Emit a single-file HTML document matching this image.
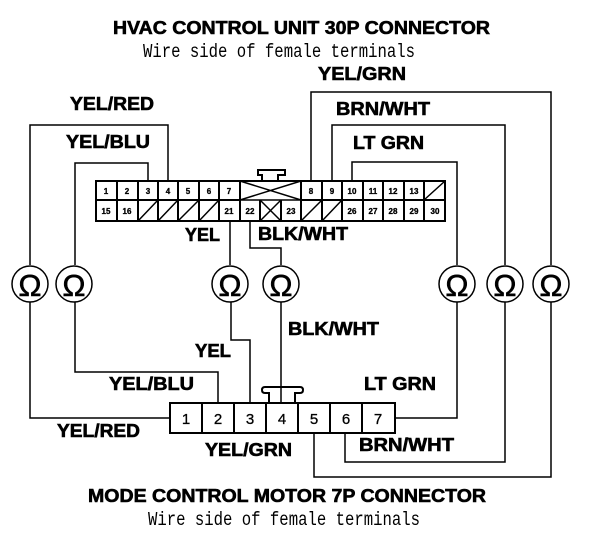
<!DOCTYPE html>
<html><head><meta charset="utf-8"><style>
html,body{margin:0;padding:0;background:#fff}
svg{display:block}
.l{font:bold 18px "Liberation Sans",sans-serif;fill:#000;stroke:#000;stroke-width:.6}
.m{font:19px "Liberation Mono",monospace;fill:#000}
.n{font:bold 8px "Liberation Sans",sans-serif;fill:#000;text-anchor:middle;stroke:#000;stroke-width:.3}
.p{font:15px "Liberation Sans",sans-serif;fill:#000;text-anchor:middle;stroke:#000;stroke-width:.3}
.o{font:31px "Liberation Sans",sans-serif;fill:#000;text-anchor:middle;stroke:#000;stroke-width:.5}
.w{fill:none;stroke:#000;stroke-width:1.5}
.b{fill:none;stroke:#000;stroke-width:2}
</style></head><body>
<svg width="608" height="552" viewBox="0 0 608 552" xmlns="http://www.w3.org/2000/svg">
<rect width="608" height="552" fill="#fff"/>
<!-- wires -->
<g class="w">
<path d="M168 181V125H30V265M30 301V418H170"/>
<path d="M148 181V163H75V265M75 301V372H218V403"/>
<path d="M230 221V265M231 301V340H250V403"/>
<path d="M250 221V248H281V265M281 301V403"/>
<path d="M311 181V92H551V265M551 301V477H314V433"/>
<path d="M332 181V125H505V265M505 301V462H345V433"/>
<path d="M352 181V162H457V265M457 301V418H395"/>
</g>
<!-- top connector -->
<g class="b">
<rect x="96" y="181" width="349" height="40"/>
<path d="M96 200H240M301 200H445"/>
<path d="M240 200H301" stroke-width="1.5"/>
<path d="M117 181V221M138 181V221M158 181V221M178 181V221M199 181V221M219 181V221M240 181V221M301 181V221M322 181V221M342 181V221M363 181V221M383 181V221M404 181V221M424 181V221M260 200V221M281 200V221"/>
<path d="M262 181V175H258V170H285V175H278V181"/>
</g>
<g class="w">
<path d="M240 181L301 200M240 200L301 181M260 200L281 221M281 200L260 221"/>
<path d="M138 221L158 200M158 221L178 200M178 221L199 200M199 221L219 200M301 221L322 200M322 221L342 200M424 200L445 181"/>
</g>
<g class="n">
<text x="106" y="194">1</text><text x="127" y="194">2</text><text x="148" y="194">3</text><text x="168" y="194">4</text><text x="188" y="194">5</text><text x="209" y="194">6</text><text x="229" y="194">7</text>
<text x="311" y="194">8</text><text x="332" y="194">9</text><text x="352" y="194">10</text><text x="373" y="194">11</text><text x="393" y="194">12</text><text x="414" y="194">13</text>
<text x="106" y="214">15</text><text x="127" y="214">16</text><text x="229" y="214">21</text><text x="250" y="214">22</text><text x="291" y="214">23</text>
<text x="352" y="214">26</text><text x="373" y="214">27</text><text x="393" y="214">28</text><text x="414" y="214">29</text><text x="435" y="214">30</text>
</g>
<!-- bottom connector -->
<g class="b">
<rect x="170" y="403" width="225" height="30"/>
<path d="M202 403V433M234 403V433M266 403V433M298 403V433M330 403V433M362 403V433"/>
<path d="M269 403V393H265Q262 393 262 390Q262 387 265 387H300Q303 387 303 390Q303 393 300 393H295V403"/>
</g>
<g class="p">
<text x="186" y="424">1</text><text x="218" y="424">2</text><text x="250" y="424">3</text><text x="282" y="424">4</text><text x="314" y="424">5</text><text x="346" y="424">6</text><text x="378" y="424">7</text>
</g>
<!-- meters -->
<g fill="#fff" stroke="#000" stroke-width="1.5">
<circle cx="30" cy="284" r="18"/><circle cx="74" cy="284" r="18"/><circle cx="230" cy="284" r="18"/><circle cx="281" cy="284" r="18"/><circle cx="457" cy="284" r="18"/><circle cx="505" cy="284" r="18"/><circle cx="551" cy="284" r="18"/>
</g>
<g class="o">
<text x="30" y="296">Ω</text><text x="74" y="296">Ω</text><text x="230" y="296">Ω</text><text x="281" y="296">Ω</text><text x="457" y="296">Ω</text><text x="505" y="296">Ω</text><text x="551" y="296">Ω</text>
</g>
<!-- labels -->
<g class="l">
<text x="113" y="34" textLength="377" lengthAdjust="spacingAndGlyphs">HVAC CONTROL UNIT 30P CONNECTOR</text>
<text x="318" y="80" textLength="88" lengthAdjust="spacingAndGlyphs">YEL/GRN</text>
<text x="70" y="110" textLength="84" lengthAdjust="spacingAndGlyphs">YEL/RED</text>
<text x="336" y="115" textLength="94" lengthAdjust="spacingAndGlyphs">BRN/WHT</text>
<text x="66" y="148" textLength="84" lengthAdjust="spacingAndGlyphs">YEL/BLU</text>
<text x="353" y="149" textLength="71" lengthAdjust="spacingAndGlyphs">LT GRN</text>
<text x="185" y="241" textLength="35" lengthAdjust="spacingAndGlyphs">YEL</text>
<text x="258" y="240" textLength="90" lengthAdjust="spacingAndGlyphs">BLK/WHT</text>
<text x="288" y="335" textLength="91" lengthAdjust="spacingAndGlyphs">BLK/WHT</text>
<text x="195" y="357" textLength="36" lengthAdjust="spacingAndGlyphs">YEL</text>
<text x="109" y="390" textLength="85" lengthAdjust="spacingAndGlyphs">YEL/BLU</text>
<text x="364" y="390" textLength="72" lengthAdjust="spacingAndGlyphs">LT GRN</text>
<text x="57" y="437" textLength="83" lengthAdjust="spacingAndGlyphs">YEL/RED</text>
<text x="359" y="451" textLength="95" lengthAdjust="spacingAndGlyphs">BRN/WHT</text>
<text x="205" y="456" textLength="87" lengthAdjust="spacingAndGlyphs">YEL/GRN</text>
<text x="88" y="502" textLength="398" lengthAdjust="spacingAndGlyphs">MODE CONTROL MOTOR 7P CONNECTOR</text>
</g>
<g class="m">
<text x="143" y="57" textLength="272" lengthAdjust="spacingAndGlyphs">Wire side of female terminals</text>
<text x="148" y="525" textLength="272" lengthAdjust="spacingAndGlyphs">Wire side of female terminals</text>
</g>
</svg>
</body></html>
